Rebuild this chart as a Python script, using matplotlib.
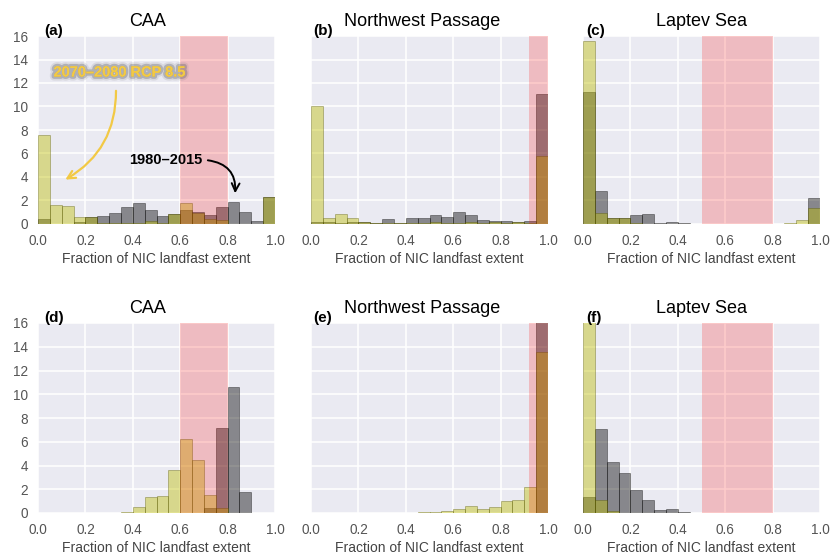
import numpy as np
import matplotlib
matplotlib.use("Agg")
import matplotlib.pyplot as plt
import matplotlib.patheffects as pe

plt.rcParams['font.family'] = ['Liberation Sans', 'DejaVu Sans']

# Histogram bins of landfast-ice fraction (width 0.05)
bin_edges = np.linspace(0.0, 1.0, 21)

# Probability density, 1980-2015 simulation (upper row)
caa_hist_a = [0.45, 0.0, 0.0, 0.17, 0.57, 0.70, 0.96, 1.42, 1.76, 1.16,
              0.68, 0.82, 1.20, 1.00, 0.80, 1.47, 1.87, 1.03, 0.22, 2.28]
nwp_hist_b = [0.15, 0.15, 0.10, 0.15, 0.17, 0.10, 0.40, 0.12, 0.55, 0.48,
              0.74, 0.62, 1.05, 0.76, 0.37, 0.28, 0.23, 0.15, 0.28, 11.1]
lap_hist_c = [11.25, 2.80, 0.54, 0.48, 0.74, 0.82, 0.06, 0.17, 0.05, 0.02,
              0.0, 0.0, 0.0, 0.0, 0.0, 0.0, 0.0, 0.0, 0.0, 2.20]
# Probability density, 2070-2080 RCP 8.5 (upper row)
caa_rcp_a = [7.60, 1.62, 1.55, 0.57, 0.60, 0.05, 0.10, 0.10, 0.10, 0.25,
             0.05, 0.82, 1.78, 0.92, 0.42, 0.30, 0.0, 0.0, 0.0, 2.28]
nwp_rcp_b = [10.0, 0.50, 0.85, 0.48, 0.17, 0.05, 0.05, 0.05, 0.10, 0.05,
             0.15, 0.05, 0.05, 0.15, 0.10, 0.15, 0.10, 0.20, 0.10, 5.80]
lap_rcp_c = [15.6, 0.90, 0.54, 0.48, 0.05, 0.0, 0.0, 0.0, 0.0, 0.0,
             0.0, 0.0, 0.0, 0.0, 0.0, 0.0, 0.0, 0.10, 0.34, 1.40]

# Lower row
caa_hist_d = [0.0, 0.0, 0.0, 0.0, 0.0, 0.0, 0.0, 0.0, 0.0, 0.0,
              0.0, 0.0, 0.0, 0.0, 0.40, 7.13, 10.65, 1.74, 0.0, 0.0]
nwp_hist_e = [0.0, 0.0, 0.0, 0.0, 0.0, 0.0, 0.0, 0.0, 0.0, 0.0,
              0.0, 0.0, 0.0, 0.0, 0.0, 0.0, 0.0, 0.0, 0.0, 17.5]
lap_hist_f = [1.38, 7.05, 4.33, 3.34, 1.94, 1.10, 0.22, 0.34, 0.08, 0.03,
              0.0, 0.0, 0.0, 0.0, 0.0, 0.0, 0.0, 0.0, 0.0, 0.0]
caa_rcp_d = [0.0, 0.02, 0.0, 0.0, 0.0, 0.0, 0.0, 0.10, 0.50, 1.35,
             1.46, 3.60, 6.20, 4.50, 1.50, 0.40, 0.0, 0.0, 0.0, 0.0]
nwp_rcp_e = [0.01, 0.01, 0.0, 0.0, 0.0, 0.0, 0.0, 0.0, 0.0, 0.05,
             0.08, 0.20, 0.30, 0.56, 0.37, 0.48, 1.00, 1.12, 2.16, 13.6]
lap_rcp_f = [17.0, 1.10, 0.15, 0.0, 0.0, 0.0, 0.0, 0.0, 0.0, 0.0,
             0.0, 0.0, 0.0, 0.0, 0.0, 0.0, 0.0, 0.0, 0.0, 0.0]

# Observed NIC landfast range for each region
nic_range_caa = [0.6, 0.8]
nic_range_nwp = [0.92, 1.0]
nic_range_lap = [0.5, 0.8]

region_titles = ["CAA", "Northwest Passage", "Laptev Sea"]
panel_letters = ["(a)", "(b)", "(c)", "(d)", "(e)", "(f)"]
xlabel_text = "Fraction of NIC landfast extent"
x_ticks = [0.0, 0.2, 0.4, 0.6, 0.8, 1.0]
y_ticks = [0, 2, 4, 6, 8, 10, 12, 14, 16]

panels = [
    (caa_hist_a, caa_rcp_a, nic_range_caa),
    (nwp_hist_b, nwp_rcp_b, nic_range_nwp),
    (lap_hist_c, lap_rcp_c, nic_range_lap),
    (caa_hist_d, caa_rcp_d, nic_range_caa),
    (nwp_hist_e, nwp_rcp_e, nic_range_nwp),
    (lap_hist_f, lap_rcp_f, nic_range_lap),
]

W, H = 831, 556
fig = plt.figure(figsize=(W / 100, H / 100), dpi=100)

col_left = [38, 311, 583]
row_top = [36, 323]
row_bot = [224, 513]
ax_w = 237
title_x = [0.462, 0.468, 0.502]
letter_x = [0.026, 0.01, 0.013]

axes = []
for i, (hist_vals, rcp_vals, nic) in enumerate(panels):
    r, c = divmod(i, 3)
    left = col_left[c] / W
    bottom = 1 - row_bot[r] / H
    height = (row_bot[r] - row_top[r]) / H
    ax = fig.add_axes([left, bottom, ax_w / W, height])
    ax.set_facecolor('#EAEAF2')
    ax.set_axisbelow(True)
    ax.grid(True, color='white', linewidth=1.1)
    for s in ax.spines.values():
        s.set_visible(False)

    ax.bar(bin_edges[:-1], hist_vals, width=np.diff(bin_edges), align='edge',
           color='k', alpha=0.42, edgecolor='k', linewidth=0.6)
    ax.bar(bin_edges[:-1], rcp_vals, width=np.diff(bin_edges), align='edge',
           color='y', alpha=0.42, edgecolor='#555500', linewidth=0.6)
    ax.axvspan(nic[0], nic[1], color='red', alpha=0.2, linewidth=0)

    ax.set_xlim(0, 1)
    ax.set_ylim(0, 16)
    ax.set_xticks(x_ticks)
    ax.set_xticklabels([f"{t:.1f}" for t in x_ticks])
    ax.set_yticks(y_ticks)
    if c == 0:
        ax.set_yticklabels([str(t) for t in y_ticks])
    else:
        ax.set_yticklabels([])
    ax.tick_params(length=0, labelsize=9.8, colors='#555555')
    ax.tick_params(axis='x', pad=7)
    ax.tick_params(axis='y', pad=7)
    ax.set_xlabel(xlabel_text, fontsize=10, color='#444444', labelpad=3)

    ax.text(title_x[c], 1.0 + 10 / 190, region_titles[c], transform=ax.transAxes,
            ha='center', va='baseline', fontsize=13, color='black')
    ax.text(letter_x[c], 1.0 + 1 / 190, panel_letters[i], transform=ax.transAxes,
            ha='left', va='baseline', fontsize=11, fontweight='bold', color='black')
    axes.append(ax)

# Annotations in panel (a)
ax_a = axes[0]
gold = '#F2C945'
ax_a.text(0.346, 12.9, "2070\u20132080 RCP 8.5", ha='center', va='center',
          fontsize=10.5, fontweight='bold', color=gold,
          path_effects=[pe.withStroke(linewidth=6, foreground='#777777', alpha=0.15),
                        pe.withStroke(linewidth=3.5, foreground='#555555', alpha=0.3),
                        pe.Normal()])
ax_a.annotate("", xy=(0.105, 3.66), xytext=(0.329, 11.57),
              arrowprops=dict(arrowstyle='->', color=gold, lw=1.6,
                              connectionstyle='arc3,rad=-0.3',
                              mutation_scale=14))
ax_a.text(0.54, 5.45, "1980\u20132015", ha='center', va='center',
          fontsize=10.5, fontweight='bold', color='black')
ax_a.annotate("", xy=(0.831, 2.38), xytext=(0.705, 5.45),
              arrowprops=dict(arrowstyle='->', color='black', lw=1.4,
                              connectionstyle='arc3,rad=-0.5',
                              mutation_scale=14))

fig.savefig("out.png", dpi=100)
